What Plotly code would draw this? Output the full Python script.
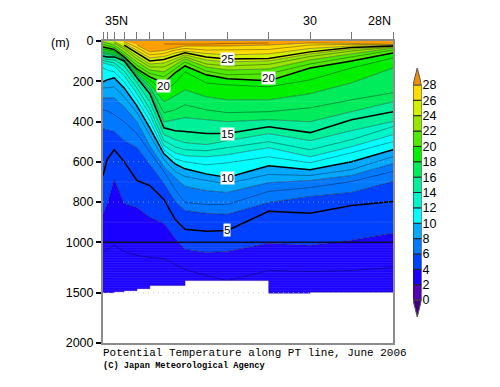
import plotly.graph_objects as go

lat = [35, 34.9, 34.73, 34.49, 34.18, 33.87, 33.53, 33.26, 33.02, 32.51, 32, 31, 30, 29, 28]
tick_lat = [35, 34.9, 34.73, 34.49, 34.18, 33.87, 33.53, 33.02, 32, 31, 30, 29, 28]

# depth (m) of each isotherm at each latitude; 0 = at the surface
t29 = [None, None, None, None, None, None, 15, 15, 17, 15, 12, 10, None, None, None]
t28 = [0, 0, 0, 0, 20, 54, 47, 35, 25, 25, 25, 20, 10, 12, 17]
t27 = [0, 0, 0, 2, 32, 69, 62, 45, 37, 45, 45, 42, 20, 17, 20]
t26 = [0, 0, 0, 10, 47, 84, 77, 59, 50, 62, 69, 64, 37, 25, 22]
t25 = [0, 0, 0, 20, 59, 99, 92, 74, 59, 79, 89, 87, 54, 32, 25]
t24 = [0, 0, 2, 30, 74, 114, 109, 89, 69, 94, 104, 99, 64, 40, 27]
t23 = [0, 0, 10, 40, 89, 129, 129, 104, 79, 114, 124, 116, 77, 50, 30]
t22 = [5, 10, 20, 54, 104, 144, 153, 119, 89, 129, 144, 139, 94, 64, 35]
t21 = [17, 22, 32, 67, 121, 161, 178, 139, 104, 149, 168, 163, 114, 79, 45]
t20 = [30, 35, 42, 79, 139, 178, 208, 158, 124, 168, 188, 198, 134, 99, 59]
t19 = [40, 45, 50, 84, 149, 193, 252, 208, 153, 208, 218, 228, 193, 134, 84]
t18 = [50, 54, 59, 87, 158, 213, 302, 272, 243, 277, 292, 292, 262, 208, 134]
t17 = [57, 62, 67, 92, 168, 228, 356, 342, 317, 342, 356, 351, 332, 292, 257]
t16 = [64, 69, 74, 94, 176, 245, 401, 391, 381, 391, 401, 391, 401, 351, 302]
t15 = [74, 79, 79, 99, 183, 262, 431, 446, 450, 460, 460, 426, 455, 391, 351]
t14 = [87, 92, 94, 124, 208, 302, 465, 490, 505, 515, 495, 460, 495, 445, 400]
t13 = [97, 102, 109, 149, 233, 337, 495, 525, 540, 545, 530, 500, 540, 490, 425]
t12 = [109, 114, 124, 173, 262, 366, 520, 555, 570, 575, 565, 530, 575, 525, 465]
t11 = [134, 144, 153, 203, 292, 396, 540, 585, 600, 615, 605, 575, 605, 555, 500]
t10 = [203, 193, 183, 233, 322, 431, 560, 610, 635, 660, 678, 620, 640, 600, 540]
t9 = [233, 233, 228, 277, 356, 465, 589, 648, 673, 693, 708, 663, 668, 639, 574]
t8 = [282, 282, 282, 327, 401, 520, 624, 678, 723, 743, 752, 703, 693, 668, 609]
t7 = [342, 347, 366, 401, 460, 549, 648, 737, 802, 812, 812, 747, 728, 698, 648]
t6 = [436, 441, 450, 495, 530, 614, 708, 797, 842, 856, 861, 802, 772, 752, 698]
t5 = [668, 589, 540, 599, 693, 718, 787, 886, 935, 945, 941, 846, 856, 817, 797]
t4 = [861, 812, 688, 807, 827, 876, 906, 980, 1070, 1100, 1090, 1010, 1030, 990, 955]
t3 = [1100, 1070, 1030, 1090, 1130, 1150, 1160, 1220, 1270, 1330, 1380, 1280, 1290, 1280, 1250]

isotherms = {29: t29, 28: t28, 27: t27, 26: t26, 25: t25, 24: t24, 23: t23, 22: t22, 21: t21, 20: t20,
             19: t19, 18: t18, 17: t17, 16: t16, 15: t15, 14: t14, 13: t13, 12: t12, 11: t11, 10: t10,
             9: t9, 8: t8, 7: t7, 6: t6, 5: t5, 4: t4, 3: t3}

# sea-floor / deepest-observation steps
floor_lat = [35, 34.73, 34.49, 34.18, 33.87, 33.02, 31, 30, 28]
floor_depth = [1500, 1490, 1480, 1460, 1430, 1380, 1505, 1495, 1495]

level_colors = {28: "#ffa000", 26: "#ffdc00", 24: "#d2f000", 22: "#96e600", 20: "#50ea00",
                18: "#00f000", 16: "#00ec5a", 14: "#00f09a", 12: "#00f5c8", 10: "#00ffff",
                8: "#00a8ff", 6: "#0078ff", 4: "#0040ff", 2: "#1a00ff", 0: "#5500b0"}
cb_levels = [0, 2, 4, 6, 8, 10, 12, 14, 16, 18, 20, 22, 24, 26]
cb_ticks = [0, 2, 4, 6, 8, 10, 12, 14, 16, 18, 20, 22, 24, 26, 28]

stripe_depths = [100, 300, 500, 700, 900, 1025, 1050, 1075, 1100, 1125, 1150, 1175, 1200, 1225, 1250,
                 1275, 1300, 1325, 1350, 1375, 1400, 1425, 1450, 1475, 1500]
dot_depths = [600, 800, 1500]

depth_ticks = [0, 200, 400, 600, 800, 1000, 1500, 2000]
contour_labels = [(32, 89, "25"), (33.53, 222, "20"), (31, 185, "20"),
                  (32, 460, "15"), (32, 678, "10"), (32, 941, "5")]


def sd(d):
    """Depth scale: linear to 1000 m, half as steep below."""
    if d is None:
        return None
    return d if d <= 1000 else 1000 + (d - 1000) / 2


fig = go.Figure()
common = dict(hoverinfo="skip", showlegend=False)

# colour bands
fig.add_trace(go.Scatter(x=lat, y=[0] * len(lat), mode="lines", line=dict(width=0), **common))
for lev in [28, 26, 24, 22, 20, 18, 16, 14, 12, 10, 8, 6, 4]:
    fig.add_trace(go.Scatter(x=lat, y=[sd(v) for v in isotherms[lev]], mode="lines", line=dict(width=0),
                             fill="tonexty", fillcolor=level_colors[lev], **common))
fig.add_trace(go.Scatter(x=lat, y=[sd(2000)] * len(lat), mode="lines", line=dict(width=0),
                         fill="tonexty", fillcolor=level_colors[2], **common))

# faint horizontal banding
for d in stripe_depths:
    fig.add_trace(go.Scatter(x=[lat[0], lat[-1]], y=[sd(d)] * 2, mode="lines",
                             line=dict(width=1, color="rgba(255,255,255,0.10)"), **common))

# isotherm lines
for t, vals in isotherms.items():
    ys = [None if (v is None or v == 0) else sd(v) for v in vals]
    bold = t % 5 == 0
    fig.add_trace(go.Scatter(x=lat, y=ys, mode="lines",
                             line=dict(width=1.5 if bold else 0.6, color="black" if bold else "rgba(0,0,0,0.6)"),
                             connectgaps=False, **common))

# blank area below the deepest observation
fig.add_trace(go.Scatter(x=floor_lat, y=[sd(v) for v in floor_depth], mode="lines",
                         line=dict(width=0.8, shape="hv", color="rgba(40,0,160,0.6)"), **common))
fig.add_trace(go.Scatter(x=[lat[0], lat[-1]], y=[sd(2000)] * 2, mode="lines", line=dict(width=0),
                         fill="tonexty", fillcolor="white", **common))

# grid lines
for d in dot_depths:
    fig.add_trace(go.Scatter(x=[lat[0], lat[-1]], y=[sd(d)] * 2, mode="lines",
                             line=dict(width=1, dash="1px 4px", color="rgba(185,185,185,0.7)"), **common))
fig.add_trace(go.Scatter(x=[lat[0], lat[-1]], y=[sd(1000)] * 2, mode="lines",
                         line=dict(width=1.5, color="#101030"), **common))

# colour bar
for lev in cb_levels:
    fig.add_trace(go.Bar(x=[1], y=[2], base=[lev], width=[1], xaxis="x2", yaxis="y2",
                         marker=dict(color=level_colors[lev], line=dict(color="#222", width=1)), **common))
fig.add_trace(go.Scatter(x=[0.5, 1, 1.5, 0.5], y=[28, 30.2, 28, 28], xaxis="x2", yaxis="y2", mode="lines",
                         fill="toself", fillcolor="#f09000", line=dict(color="#555", width=1), **common))
fig.add_trace(go.Scatter(x=[0.5, 1, 1.5, 0.5], y=[0, -2.2, 0, 0], xaxis="x2", yaxis="y2", mode="lines",
                         fill="toself", fillcolor="#400080", line=dict(color="#555", width=1), **common))

anns = [dict(x=la, y=sd(d), xref="x", yref="y", text=s, showarrow=False, bgcolor="white", borderpad=0,
             font=dict(family="Liberation Sans", size=11.5, color="black")) for la, d, s in contour_labels]
top = dict(yref="paper", y=1.066, xref="x", showarrow=False, yanchor="middle",
           font=dict(family="Liberation Sans", size=12.5, color="black"))
anns += [dict(x=35, text="35N", xanchor="left", **top),
         dict(x=30, text="30", xanchor="center", **top),
         dict(x=28, text="28N", xanchor="right", **top)]
anns += [dict(xref="paper", yref="paper", x=-0.125, y=0.993, xanchor="center", yanchor="middle", text="(m)",
              showarrow=False, font=dict(family="Liberation Sans", size=12.5, color="black")),
         dict(xref="paper", yref="paper", x=0, y=-0.033, xanchor="left", yanchor="middle", xshift=-2,
              text="Potential Temperature along PT line, June 2006",
              showarrow=False, font=dict(family="Liberation Mono", size=11, color="black")),
         dict(xref="paper", yref="paper", x=0, y=-0.076, xanchor="left", yanchor="middle", xshift=-2,
              text="<b>(C) Japan Meteorological Agency</b>",
              showarrow=False, font=dict(family="Liberation Mono", size=8.7, color="black"))]

fig.update_layout(
    width=492, height=379, autosize=False, margin=dict(l=95, r=60, t=33, b=44, pad=0),
    paper_bgcolor="white", plot_bgcolor="white", barmode="overlay", annotations=anns,
    xaxis=dict(domain=[0, 290 / 337], range=[35, 28], side="top", tickmode="array", tickvals=tick_lat,
               showticklabels=False, ticks="outside", ticklen=7, tickcolor="#777", tickwidth=1,
               showgrid=False, zeroline=False, showline=True, linecolor="#8c8c8c", linewidth=1.5, mirror=True),
    yaxis=dict(range=[sd(2000), 0], tickmode="array", tickvals=[sd(d) for d in depth_ticks],
               ticktext=[str(d) for d in depth_ticks], ticks="outside", ticklen=5, tickcolor="black", tickwidth=1.5,
               tickfont=dict(family="Liberation Sans", size=12.5, color="black"),
               showgrid=False, zeroline=False, showline=True, linecolor="#8c8c8c", linewidth=2, mirror=True),
    xaxis2=dict(domain=[310 / 337, 318.5 / 337], range=[0.5, 1.5], anchor="y2", visible=False, fixedrange=True),
    yaxis2=dict(domain=[26 / 302, 275 / 302], range=[-2.2, 30.2], anchor="x2", side="right", tickmode="array",
                tickvals=cb_ticks, ticks="", ticklen=0, showgrid=False, zeroline=False, showline=False,
                tickfont=dict(family="Liberation Sans", size=12.5, color="black")),
)

fig.write_html("out.html")
